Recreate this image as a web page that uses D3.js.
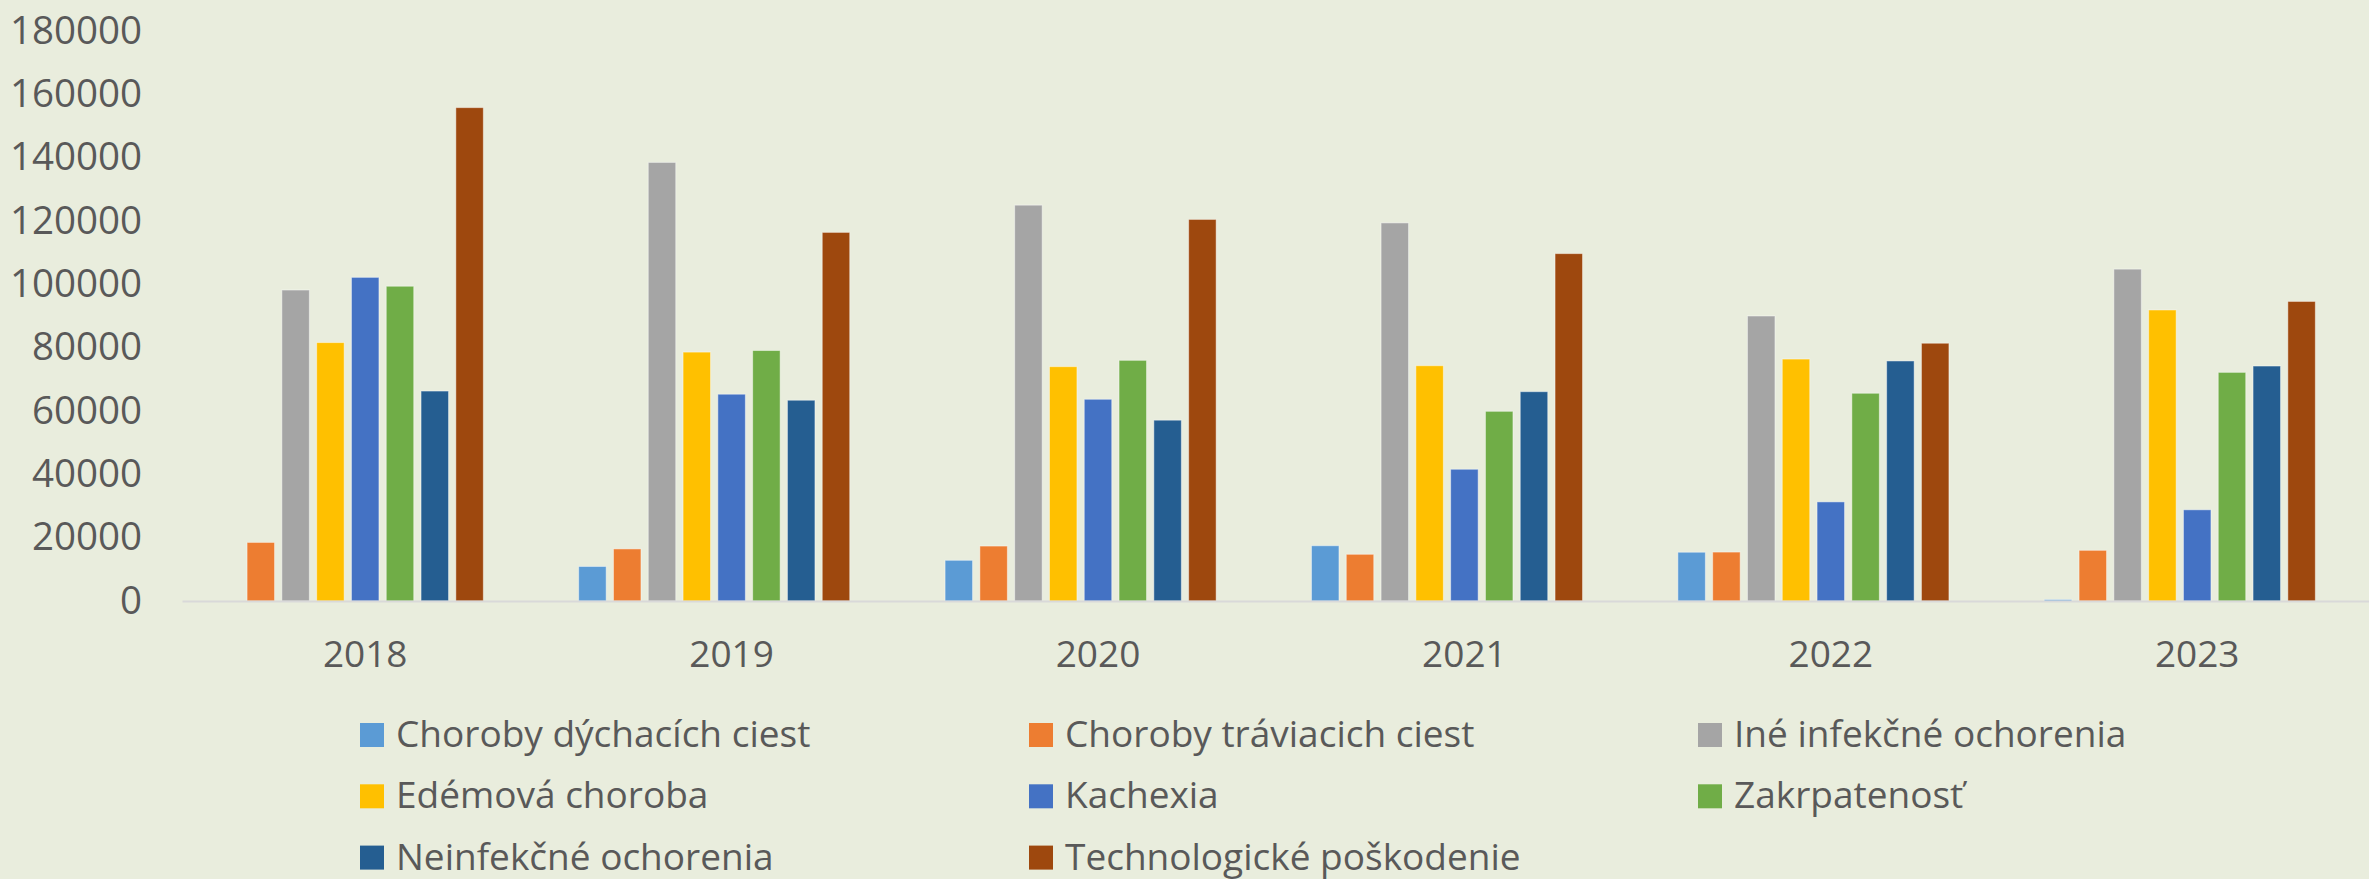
<!DOCTYPE html>
<html>
<head>
<meta charset="utf-8">
<script src="https://cdn.jsdelivr.net/npm/d3@7"></script>
<style>
  body { margin: 0; background: #e9eddd; }
  text { font-family: "Open Sans", sans-serif; fill: #595959; }
</style>
</head>
<body>
<div id="chart"></div>
<script>
// chart data
var years = ["2018", "2019", "2020", "2021", "2022", "2023"];
var seriesNames = ["Choroby dýchacích ciest", "Choroby tráviacich ciest", "Iné infekčné ochorenia",
    "Edémová choroba", "Kachexia", "Zakrpatenosť", "Neinfekčné ochorenia", "Technologické poškodenie"];
var seriesColors = ["#5b9bd5", "#ed7d31", "#a5a5a5", "#ffc000", "#4472c4", "#70ad47", "#255e91", "#9e480e"];

var dychacie = [0, 10900, 12850, 17450, 15400, 450];
var traviace = [18500, 16450, 17350, 14750, 15450, 16000];
var ineInfekcne = [98200, 138500, 125000, 119400, 90000, 104800];
var edemova = [81600, 78600, 74000, 74300, 76400, 91900];
var kachexia = [102200, 65300, 63700, 41600, 31300, 28800];
var zakrpatenost = [99400, 79100, 76000, 59900, 65600, 72200];
var neinfekcne = [66300, 63400, 57100, 66100, 75800, 74200];
var technologicke = [155800, 116400, 120500, 109700, 81400, 94600];

var seriesValues = [dychacie, traviace, ineInfekcne, edemova, kachexia, zakrpatenost, neinfekcne, technologicke];
var yTicks = [0, 20000, 40000, 60000, 80000, 100000, 120000, 140000, 160000, 180000];

var W = 2369, H = 879;

var svg = d3.select("#chart")
    .append("svg")
    .attr("width", W)
    .attr("height", H);

svg.append("rect")
    .attr("width", W)
    .attr("height", H)
    .attr("fill", "#e9eddd");

// scales
var x0 = d3.scaleBand()
    .domain(years)
    .range([182, 182 + 6 * 366.4]);

// 9 slots per year, the last one stays empty (as in the source chart)
var x1 = d3.scaleBand()
    .domain(d3.range(9))
    .range([0, x0.bandwidth()])
    .paddingInner(0.21)
    .paddingOuter(0.87);

var y = d3.scaleLinear()
    .domain([0, 180000])
    .range([601, 31]);

// y axis labels
var yAxis = svg.append("g")
    .attr("transform", "translate(182,0)")
    .call(d3.axisLeft(y).tickValues(yTicks).tickSize(0).tickPadding(40).tickFormat(d3.format("d")));
yAxis.select(".domain").remove();
yAxis.selectAll("text")
    .style("font-size", "38.5px")
    .style("font-family", "'Open Sans', sans-serif")
    .attr("fill", "#595959");

// bars
var groups = svg.append("g")
    .selectAll("g")
    .data(years)
    .enter()
    .append("g")
    .attr("transform", function (d) { return "translate(" + x0(d) + ",0)"; });

groups.selectAll("rect")
    .data(function (d, i) {
        return seriesValues.map(function (vals, s) { return { s: s, v: vals[i] }; });
    })
    .enter()
    .append("rect")
    .attr("x", function (d) { return x1(d.s); })
    .attr("y", function (d) { return y(d.v); })
    .attr("width", x1.bandwidth())
    .attr("height", function (d) { return y(0) - y(d.v); })
    .attr("fill", function (d) { return seriesColors[d.s]; })
    .attr("stroke", "rgba(255,255,255,0.45)")
    .attr("stroke-width", 1);

// x axis
var xAxis = svg.append("g")
    .attr("transform", "translate(0,601)")
    .call(d3.axisBottom(x0).tickSize(0).tickPadding(40));
xAxis.select(".domain")
    .attr("stroke", "#d9d9d9")
    .attr("stroke-width", 2);
xAxis.selectAll("text")
    .style("font-size", "37px")
    .style("font-family", "'Open Sans', sans-serif")
    .attr("fill", "#595959");

// legend
var legendCols = [360, 1029, 1698];
var legend = svg.append("g")
    .selectAll("g")
    .data(seriesNames)
    .enter()
    .append("g")
    .attr("transform", function (d, i) {
        return "translate(" + legendCols[i % 3] + "," + (723 + Math.floor(i / 3) * 61.3) + ")";
    });

legend.append("rect")
    .attr("width", 24)
    .attr("height", 24)
    .attr("fill", function (d, i) { return seriesColors[i]; });

legend.append("text")
    .attr("x", 36)
    .attr("y", 24)
    .style("font-size", "37px")
    .text(function (d) { return d; });
</script>
</body>
</html>
